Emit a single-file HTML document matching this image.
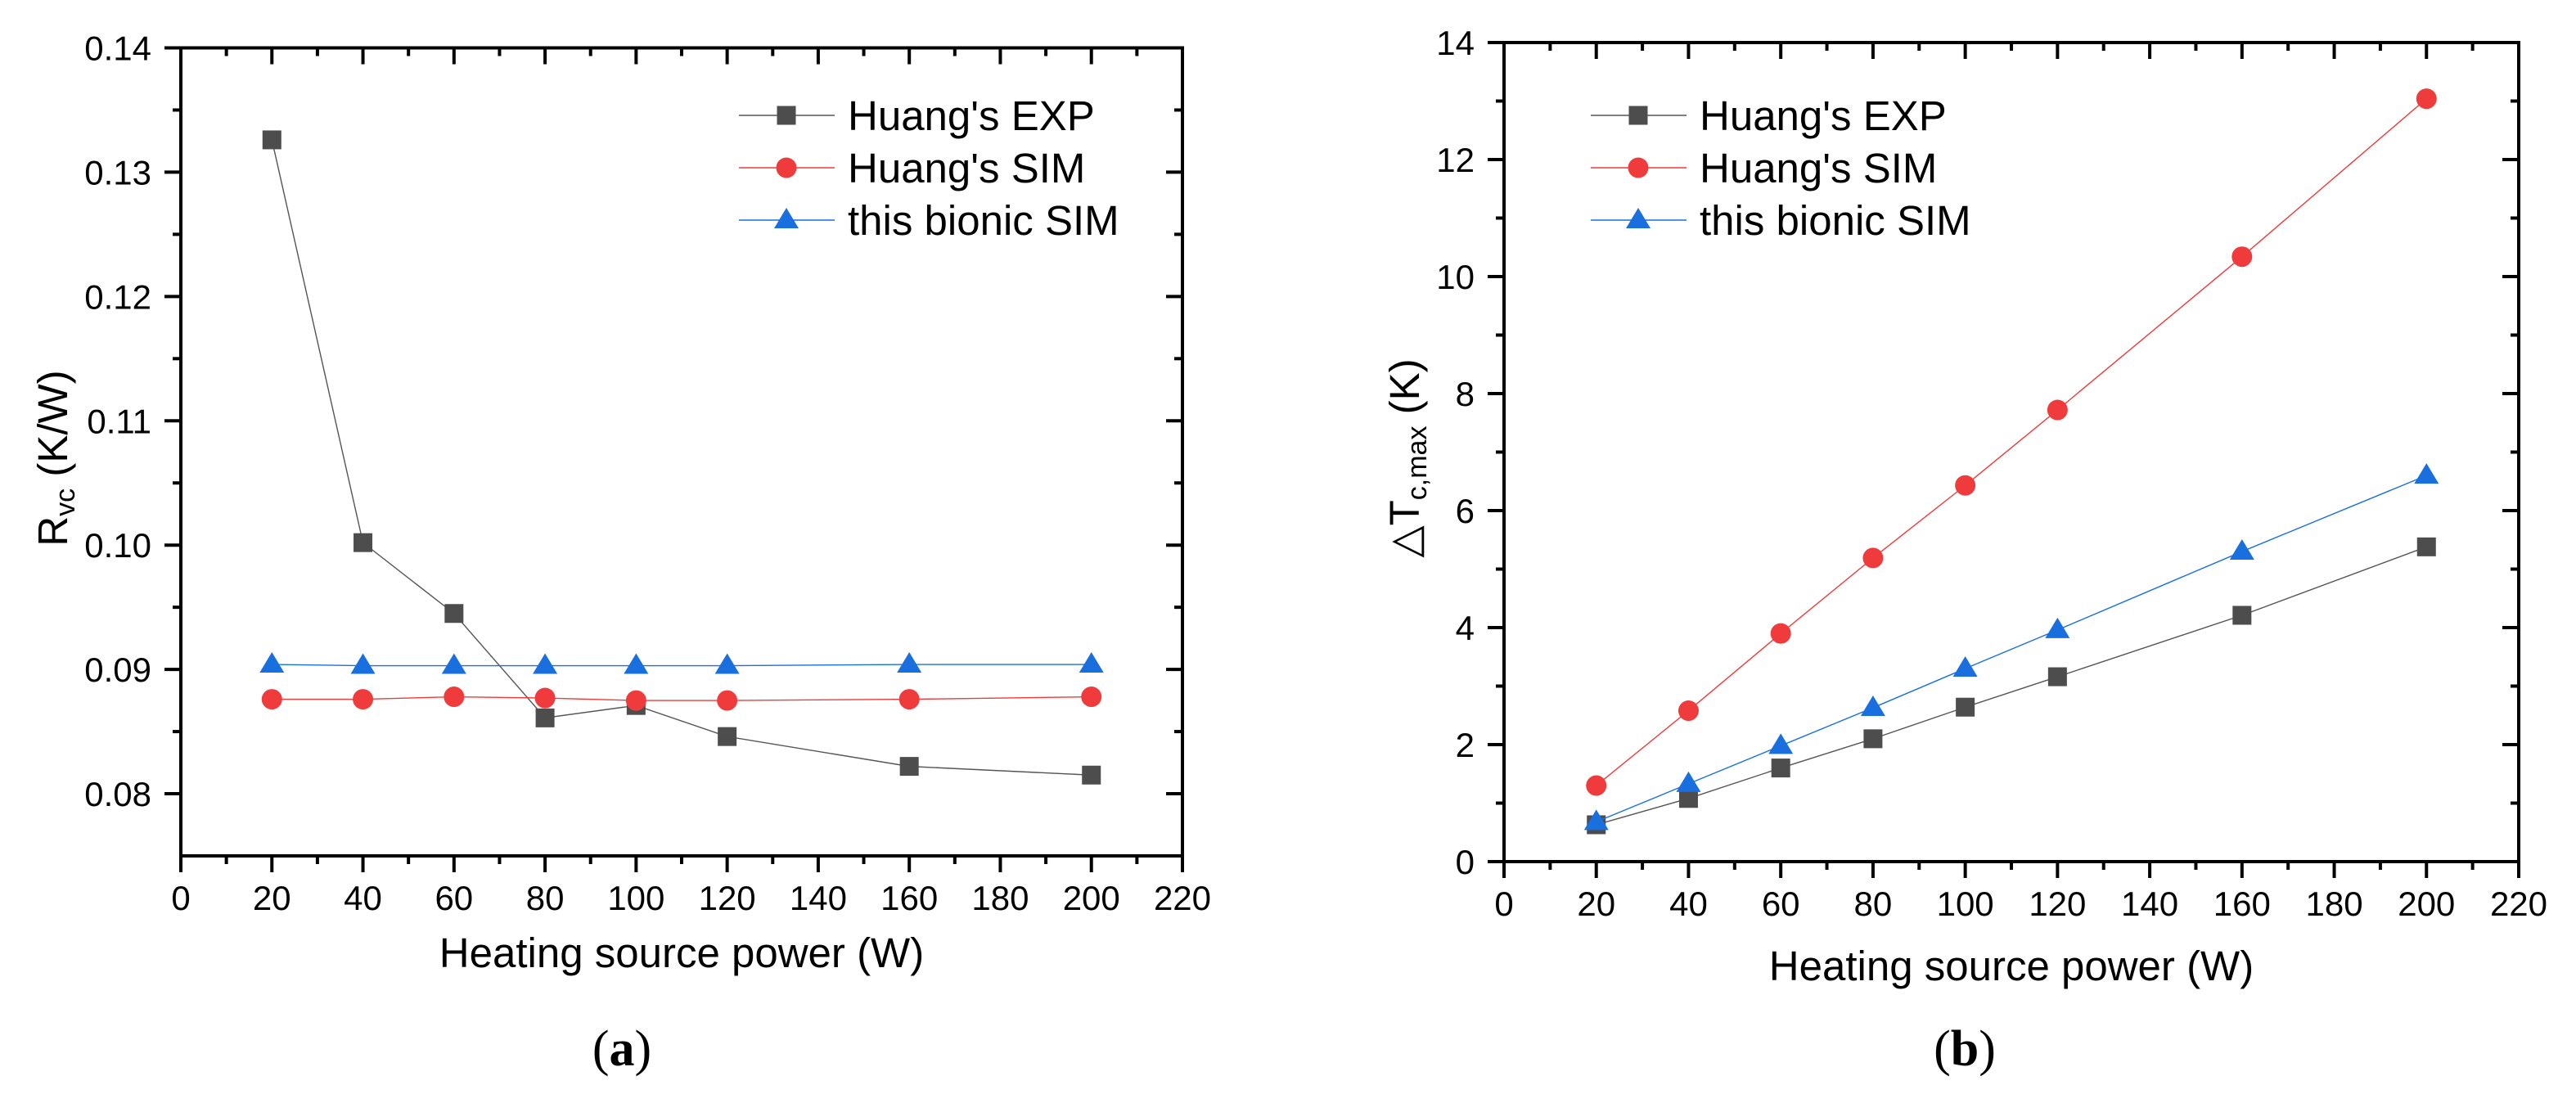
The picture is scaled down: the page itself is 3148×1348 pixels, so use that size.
<!DOCTYPE html>
<html><head><meta charset="utf-8"><style>
html,body{margin:0;padding:0;background:#fff;}
svg{display:block;font-family:"Liberation Sans",Arial,sans-serif;}
</style></head><body>
<svg id="fig" width="3148" height="1348" viewBox="0 0 3148 1348" xmlns="http://www.w3.org/2000/svg"></svg>
<script>
const xCats = [20, 40, 60, 80, 100, 120, 160, 200];
const xTicks = [0, 20, 40, 60, 80, 100, 120, 140, 160, 180, 200, 220];
const seriesNames = ["Huang's EXP", "Huang's SIM", "this bionic SIM"];
const aExp = [0.1326, 0.1002, 0.0945, 0.0861, 0.0871, 0.0846, 0.0822, 0.0815];
const aSim = [0.0876, 0.0876, 0.0878, 0.0877, 0.0875, 0.0875, 0.0876, 0.0878];
const aBio = [0.0904, 0.0903, 0.0903, 0.0903, 0.0903, 0.0903, 0.0904, 0.0904];
const aYTicks = [0.08, 0.09, 0.10, 0.11, 0.12, 0.13, 0.14];
const aYLabels = ["0.08", "0.09", "0.10", "0.11", "0.12", "0.13", "0.14"];
const bExp = [0.63, 1.08, 1.60, 2.10, 2.64, 3.16, 4.21, 5.38];
const bSim = [1.30, 2.58, 3.90, 5.19, 6.43, 7.72, 10.34, 13.04];
const bBio = [0.68, 1.33, 1.98, 2.63, 3.30, 3.96, 5.30, 6.60];
const bYTicks = [0, 2, 4, 6, 8, 10, 12, 14];
const bYLabels = ["0", "2", "4", "6", "8", "10", "12", "14"];

const NS = "http://www.w3.org/2000/svg";
const svg = document.getElementById('fig');
function mk(tag, attrs, parent, text) {
  const e = document.createElementNS(NS, tag);
  for (const k in attrs) e.setAttribute(k, attrs[k]);
  if (text !== undefined) e.textContent = text;
  (parent || svg).appendChild(e);
  return e;
}
const colors = ["#4d4d4d", "#ef3b3b", "#1a6fdf"];
const lineColors = ["#555555", "#ef3b3b", "#1a6fdf"];

function marker(g, kind, cx, cy, color) {
  let m;
  if (kind === 0) m = mk('rect', {x: cx - 11.5, y: cy - 11.5, width: 23, height: 23, fill: color}, g);
  else if (kind === 1) m = mk('circle', {cx: cx, cy: cy, r: 12.5, fill: color}, g);
  else m = mk('polygon', {points: (cx - 15) + ',' + (cy + 10) + ' ' + (cx + 15) + ',' + (cy + 10) + ' ' + cx + ',' + (cy - 15), fill: color}, g);
  return m;
}

function panel(cfg) {
  const {L, R, T, B, ymin, ymax, yTicks, yLabels, minorY, series, legX, ytitle, letter, letterX, name, xtY} = cfg;
  const g = mk('g', {});
  
  
  const X = v => L + (v - 0) / 220 * (R - L);
  const Y = v => B - (v - ymin) / (ymax - ymin) * (B - T);
  series.forEach((vals, si) => {
    const sg = mk('g', {}, g);
    
    
    const pts = vals.map((v, i) => X(xCats[i]) + ',' + Y(v)).join(' ');
    mk('polyline', {points: pts, fill: 'none', stroke: lineColors[si], 'stroke-width': 1.4}, sg);
    vals.forEach((v, i) => {
      const m = marker(sg, si, X(xCats[i]), Y(v), colors[si]);
      
      
    });
  });
  const ax = mk('g', {stroke: '#000', 'stroke-width': 4, fill: 'none'}, g);
  
  
  mk('rect', {x: L, y: T, width: R - L, height: B - T}, ax);
  for (let v = 0; v <= 220; v += 10) {
    const major = v % 20 === 0;
    const len = major ? 20 : 10;
    const x = X(v);
    mk('line', {x1: x, y1: B, x2: x, y2: B + len}, ax);
    mk('line', {x1: x, y1: T, x2: x, y2: T + len}, ax);
  }
  xTicks.forEach(v => {
    const t = mk('text', {x: X(v), y: B + 66, 'font-size': 42, 'text-anchor': 'middle', fill: '#000'}, g, String(v));
    
    
  });
  minorY.forEach(v => {
    const y = Y(v);
    mk('line', {x1: L - 10, y1: y, x2: L, y2: y}, ax);
    mk('line', {x1: R, y1: y, x2: R - 10, y2: y}, ax);
  });
  yTicks.forEach((v, i) => {
    const y = Y(v);
    mk('line', {x1: L - 20, y1: y, x2: L, y2: y}, ax);
    mk('line', {x1: R, y1: y, x2: R - 20, y2: y}, ax);
    const t = mk('text', {x: L - 36, y: y + 15, 'font-size': 42, 'text-anchor': 'end', fill: '#000'}, g, yLabels[i]);
    
    
  });
  const lg = mk('g', {}, g);
  
  
  [141, 205, 269].forEach((ly, si) => {
    const e = mk('g', {}, lg);
    
    
    mk('line', {x1: legX, y1: ly, x2: legX + 117, y2: ly, stroke: lineColors[si], 'stroke-width': 1.4}, e);
    marker(e, si, legX + 58, ly, colors[si]);
    mk('text', {x: legX + 133, y: ly + 18, 'font-size': 51, fill: '#000'}, e, seriesNames[si]);
  });
  const xt = mk('text', {x: (L + R) / 2, y: xtY, 'font-size': 51, 'text-anchor': 'middle', fill: '#000'}, g, 'Heating source power (W)');
  
  
  const yt = ytitle(g);
  
  
  const lt = mk('text', {x: letterX, y: 1302, 'font-size': 62, 'text-anchor': 'middle', fill: '#000', 'font-family': '"Liberation Serif",serif'}, g);
  mk('tspan', {}, lt, '(');
  mk('tspan', {'font-weight': 'bold'}, lt, letter);
  mk('tspan', {}, lt, ')');
  
  
}

panel({
  name: 'chart-a', L: 221, R: 1445, T: 58.5, B: 1046, ymin: 0.075, ymax: 0.14,
  yTicks: aYTicks, yLabels: aYLabels, minorY: [0.085, 0.095, 0.105, 0.115, 0.125, 0.135],
  series: [aExp, aSim, aBio], legX: 903, letter: 'a', letterX: 760, xtY: 1182,
  ytitle: g => {
    const t = mk('text', {transform: 'translate(82,560) rotate(-90)', 'font-size': 51, 'text-anchor': 'middle', fill: '#000'}, g);
    mk('tspan', {}, t, 'R');
    mk('tspan', {'font-size': 34, dy: 9}, t, 'vc');
    mk('tspan', {dy: -9}, t, ' (K/W)');
    return t;
  }
});
panel({
  name: 'chart-b', L: 1838, R: 3078, T: 52, B: 1053, ymin: 0, ymax: 14,
  yTicks: bYTicks, yLabels: bYLabels, minorY: [1, 3, 5, 7, 9, 11, 13],
  series: [bExp, bSim, bBio], legX: 1944, letter: 'b', letterX: 2401, xtY: 1198,
  ytitle: g => {
    const t = mk('text', {transform: 'translate(1734,560) rotate(-90)', 'font-size': 51, 'text-anchor': 'middle', fill: '#000'}, g);
    mk('tspan', {}, t, '\u25B3T');
    mk('tspan', {'font-size': 34, dy: 9}, t, 'c,max');
    mk('tspan', {dy: -9}, t, ' (K)');
    return t;
  }
});
</script>
</body></html>
